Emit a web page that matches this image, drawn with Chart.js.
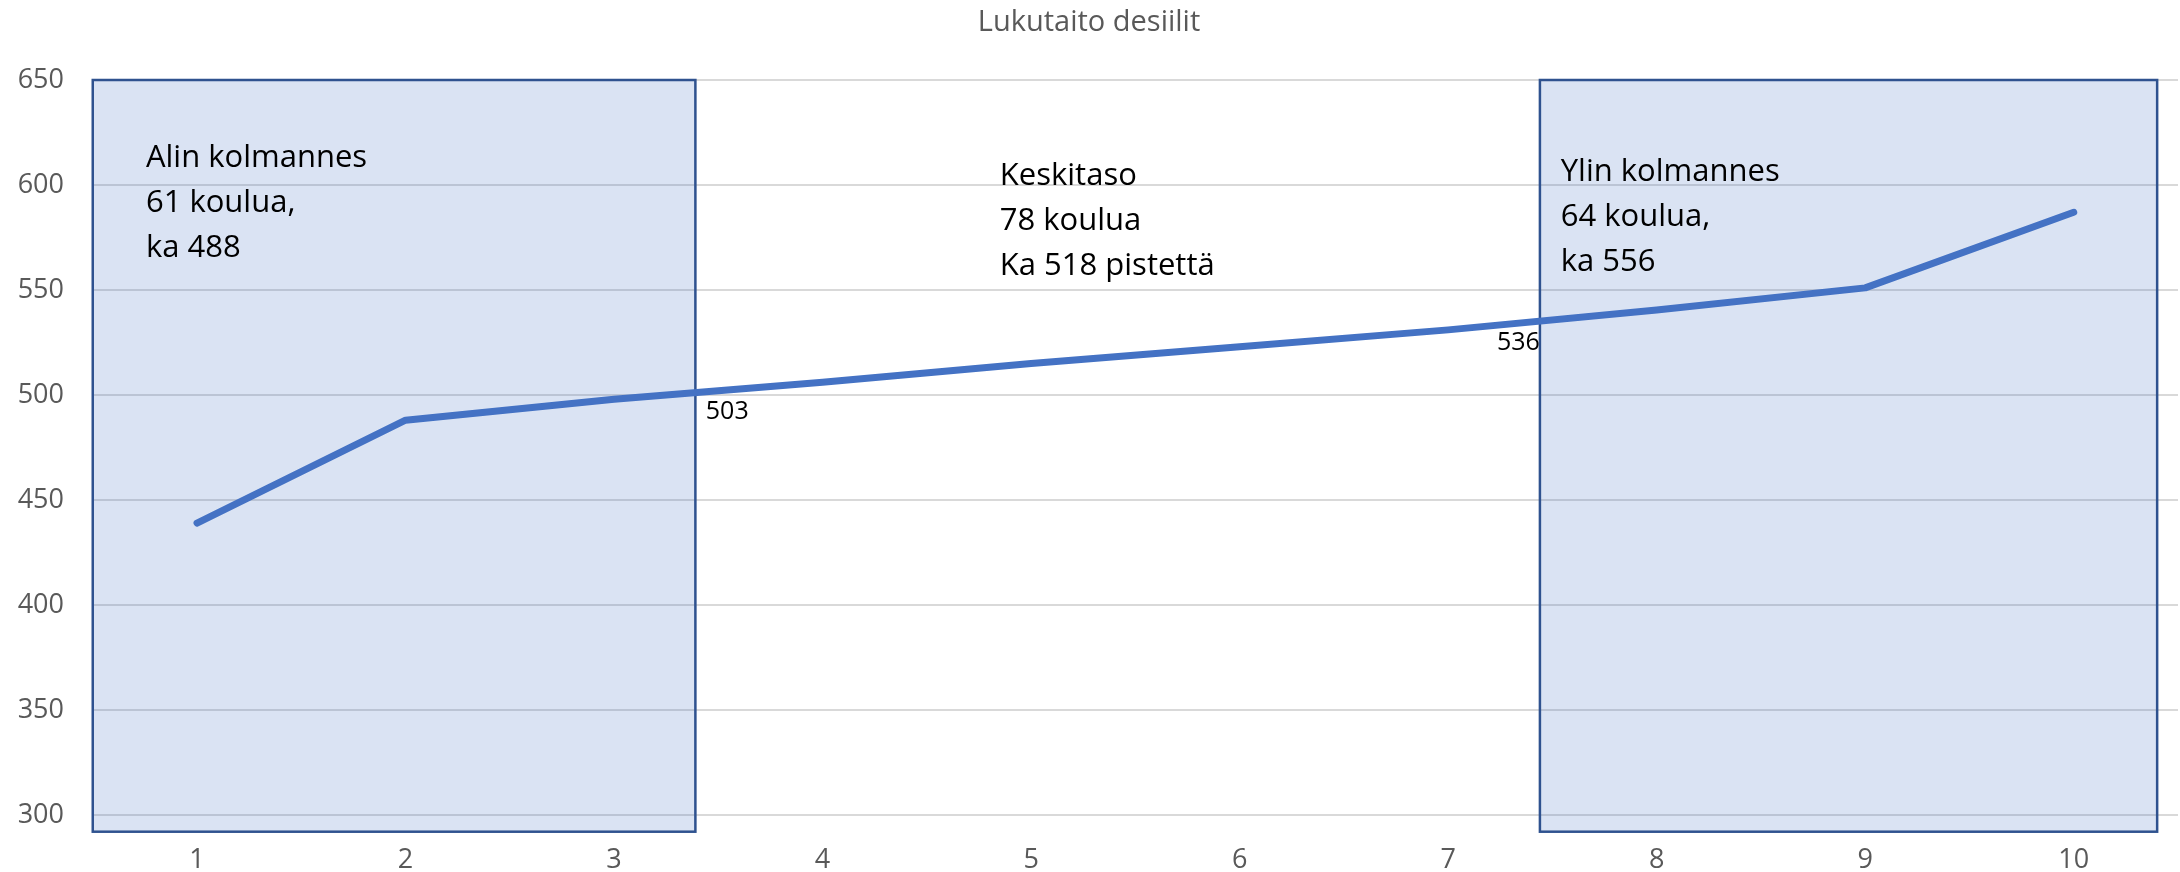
<!DOCTYPE html>
<html lang="fi">
<head>
<meta charset="utf-8">
<title>Lukutaito desiilit</title>
<script src="https://cdn.jsdelivr.net/npm/chart.js@4.4.1/dist/chart.umd.min.js"></script>
<style>
  html, body { margin: 0; padding: 0; background: #ffffff; }
  #wrap { width: 2180px; height: 872px; }
</style>
</head>
<body>
<div id="wrap"><canvas id="desiiliChart"></canvas></div>
<script>
// Desiilit x-akselille
const desiilit = ['1', '2', '3', '4', '5', '6', '7', '8', '9', '10'];
// Keskimääräiset pisteet desiileittäin (luettu kuvasta)
const pisteet = [439, 488, 498, 506, 515, 523, 531, 540.5, 551, 587];
// Y-akselin jakoviivat
const yTicks = [300, 350, 400, 450, 500, 550, 600, 650];

// Kolmannesten laatikot: alku ja loppu desiili-indeksinä
const laatikotAlku = [-0.5, 6.44];
const laatikotLoppu = [2.39, 9.4];

// Tekstit
const tekstiRivit = [
    ['Alin kolmannes', '61 koulua,', 'ka 488'],
    ['Keskitaso', '78 koulua', 'Ka 518 pistettä'],
    ['Ylin kolmannes', '64 koulua,', 'ka 556']
];
// Rajapisteiden arvot
const rajaArvot = ['503', '536'];

// Sijoittelu (x desiili-indeksinä, y pisteinä)
const sijoittelu = {
    laatikkoYla: 650,
    laatikkoAla: 292,
    tekstiX: [-0.245, 3.85, 6.54],
    tekstiY: [608.4, 600, 602],
    rajaX: [2.44, 6.44],
    rajaY: [492, 525],
    rajaAlign: ['left', 'right']
};

const fontti = '"Open Sans", "DejaVu Sans", sans-serif';

// Piirretään laatikot viivan alle ja tekstit sen päälle
const kolmannesPlugin = {
    id: 'kolmannekset',
    beforeDatasetsDraw(chart) {
        const { ctx, scales: { x, y } } = chart;
        const top = y.getPixelForValue(sijoittelu.laatikkoYla);
        const bottom = y.getPixelForValue(sijoittelu.laatikkoAla);
        ctx.save();
        for (let i = 0; i < laatikotAlku.length; i++) {
            const left = x.getPixelForValue(laatikotAlku[i]);
            const right = x.getPixelForValue(laatikotLoppu[i]);
            ctx.fillStyle = 'rgba(68, 114, 196, 0.2)';
            ctx.fillRect(left, top, right - left, bottom - top);
            ctx.strokeStyle = '#2F528F';
            ctx.lineWidth = 2.5;
            ctx.strokeRect(left, top, right - left, bottom - top);
        }
        ctx.restore();
    },
    afterDatasetsDraw(chart) {
        const { ctx, scales: { x, y } } = chart;
        ctx.save();
        ctx.fillStyle = '#000000';
        ctx.font = '31px ' + fontti;
        ctx.textAlign = 'left';
        ctx.textBaseline = 'alphabetic';
        tekstiRivit.forEach((rivit, i) => {
            const tx = x.getPixelForValue(sijoittelu.tekstiX[i]);
            const ty = y.getPixelForValue(sijoittelu.tekstiY[i]);
            rivit.forEach((rivi, j) => ctx.fillText(rivi, tx, ty + j * 45));
        });
        ctx.font = '25px ' + fontti;
        ctx.textBaseline = 'middle';
        rajaArvot.forEach((arvo, i) => {
            ctx.textAlign = sijoittelu.rajaAlign[i];
            ctx.fillText(arvo, x.getPixelForValue(sijoittelu.rajaX[i]), y.getPixelForValue(sijoittelu.rajaY[i]));
        });
        ctx.restore();
    }
};

const ctx = document.getElementById('desiiliChart').getContext('2d');

new Chart(ctx, {
    type: 'line',
    data: {
        labels: desiilit,
        datasets: [{
            data: pisteet,
            borderColor: '#4472C4',
            borderWidth: 7,
            borderCapStyle: 'round',
            borderJoinStyle: 'round',
            pointRadius: 0,
            tension: 0,
            fill: false
        }]
    },
    options: {
        responsive: true,
        maintainAspectRatio: false,
        animation: false,
        layout: { padding: { right: 2, left: 0, top: 0, bottom: 0 } },
        plugins: {
            legend: { display: false },
            tooltip: { enabled: false },
            title: {
                display: true,
                text: 'Lukutaito desiilit',
                color: '#595959',
                font: { family: fontti, size: 29, weight: 'normal', lineHeight: 1.2 },
                padding: { top: 5.6, bottom: 39.6 }
            }
        },
        scales: {
            x: {
                offset: true,
                grid: { display: false, drawTicks: false },
                border: { display: false },
                ticks: {
                    color: '#595959',
                    font: { family: fontti, size: 27 },
                    padding: 12,
                    maxRotation: 0
                },
                afterFit(scale) { scale.height = 40.3; }
            },
            y: {
                min: 292,
                max: 650,
                // Näkymättömät tikit siirtävät numerot irti kuva-alasta
                grid: { color: '#d9d9d9', lineWidth: 2, drawTicks: true, tickLength: 24.75, tickColor: 'rgba(0,0,0,0)' },
                border: { display: false },
                ticks: {
                    color: '#595959',
                    font: { family: fontti, size: 27 },
                    padding: 4
                },
                afterBuildTicks(scale) { scale.ticks = yTicks.map(v => ({ value: v })); },
                afterFit(scale) { scale.width = 92.75; }
            }
        }
    },
    plugins: [kolmannesPlugin]
});
</script>
</body>
</html>
